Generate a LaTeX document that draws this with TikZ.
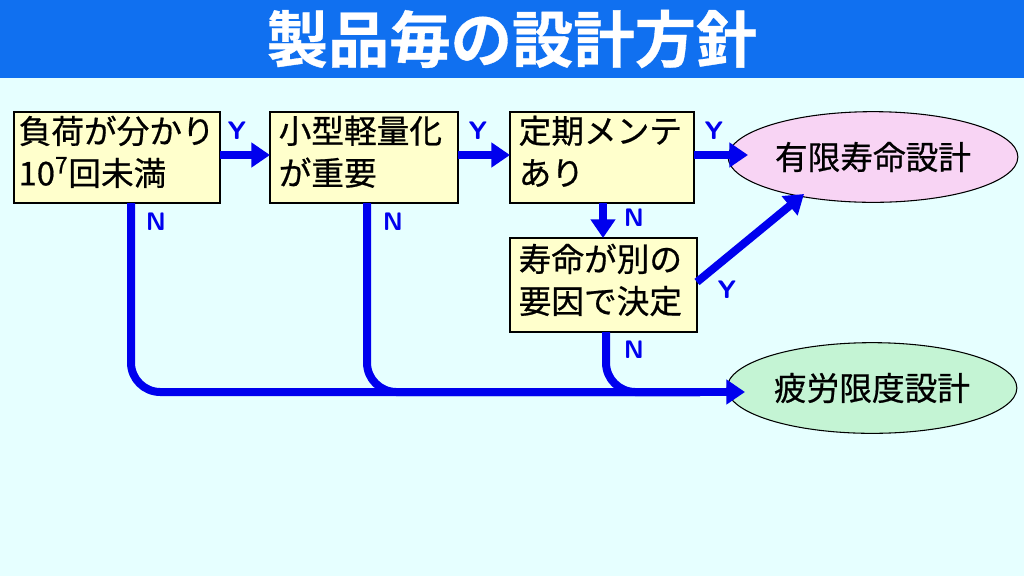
\documentclass[tikz,border=0pt]{standalone}
\usepackage{fontspec}
\setmainfont{Noto Sans CJK JP}[FakeBold=0.6,BoldFont={Noto Sans CJK JP Bold}]
\usetikzlibrary{arrows.meta,shapes.geometric}
\definecolor{bg}{HTML}{E6FFFF}
\definecolor{tbar}{HTML}{1070F0}
\definecolor{boxf}{HTML}{FFFFCC}
\definecolor{pinkf}{HTML}{F8D4F4}
\definecolor{greenf}{HTML}{C4F4D4}
\definecolor{arr}{HTML}{0000EE}
\begin{document}
\begin{tikzpicture}[x=0.75pt,y=-0.75pt,
  box/.style={draw=black,line width=0.8pt,fill=boxf,inner sep=0pt},
  txt/.style={font=\fontsize{24.5}{31.5}\selectfont,align=left,anchor=north west},
  ell/.style={ellipse,draw=black,line width=0.8pt,minimum width=189pt,minimum height=68pt,font=\fontsize{24.5}{26}\selectfont},
  ar/.style={arr,line width=6pt,-{Triangle[length=14pt,width=18pt]}},
  ln/.style={arr,line width=6pt,rounded corners=22pt},
  lab/.style={text=arr,font=\sffamily\bfseries\fontsize{19}{20}\selectfont}]
\fill[bg] (0,0) rectangle (1024,576);
\useasboundingbox (0,0) rectangle (1024,576);
\fill[tbar] (0,0) rectangle (1024,78);
\node[text=white,font=\bfseries\fontsize{46}{50}\selectfont] (title) at (512,39) {製品毎の設計方針};
% boxes
\draw[box] (14,112) rectangle (220,203);
\node[txt] (b1) at (14,111) {負荷が分かり\\10\textsuperscript{7}回未満};
\draw[box] (270,112) rectangle (458,203);
\node[txt] (b2) at (274,111) {小型軽量化\\が重要};
\draw[box] (510,112) rectangle (694,203);
\node[txt] (b3) at (514,111) {定期メンテ\\あり};
\draw[box] (510,238) rectangle (697,332);
\node[txt] (b4) at (514,239) {寿命が別の\\要因で決定};
\coordinate (B1r) at (220,155); \coordinate (B2l) at (270,155);
\coordinate (B2r) at (458,155); \coordinate (B3l) at (510,155);
\coordinate (B3r) at (694,155); \coordinate (E1l) at (748,155);
\coordinate (B3b) at (603,203); \coordinate (B4t) at (603,238);
\coordinate (B4r) at (697,282);
\node[ell,fill=pinkf] (e1) at (873,157) {有限寿命設計};
\node[ell,fill=greenf,minimum width=192pt] (e2) at (872,388) {疲労限度設計};
% arrows
\draw[ar] (B1r) -- (B2l);
\draw[ar] (B2r) -- (B3l);
\draw[ar] (B3r) -- (E1l);
\draw[ar] (B3b) -- (B4t);
\draw[ar] (B4r) -- (804,194);
\coordinate (n1) at (131,203); \coordinate (n2) at (367,203); \coordinate (n4) at (606,332);
\coordinate (bot) at (700,392); \coordinate (E2l) at (745,392);
\draw[ln] (n1) -- (131,392) -- (bot);
\draw[ln] (n2) -- (367,392) -- (bot);
\draw[ln] (n4) -- (606,392) -- (bot);
\draw[ar] (690,392) -- (E2l);
% labels
\node[lab] (y1) at (237,131) {Y};
\node[lab] (y2) at (478,131) {Y};
\node[lab] (y3) at (714,131) {Y};
\node[lab] (y4) at (727,290) {Y};
\node[lab] (nl1) at (156,222) {N};
\node[lab] (nl2) at (393,222) {N};
\node[lab] (nl3) at (634,218) {N};
\node[lab] (nl4) at (634,350) {N};
\end{tikzpicture}
\end{document}
